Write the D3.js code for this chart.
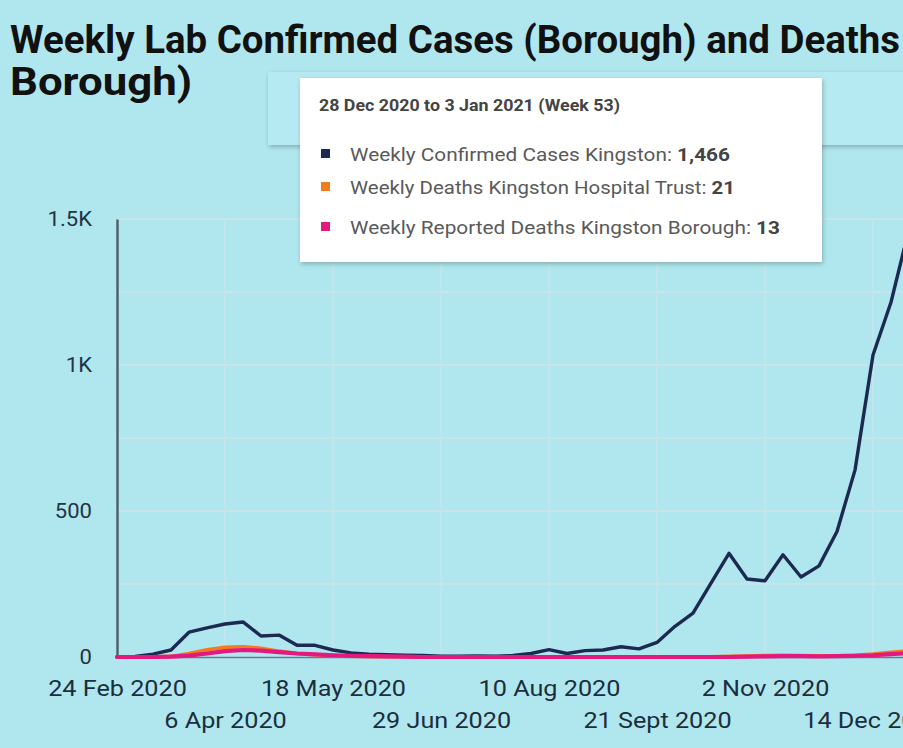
<!DOCTYPE html>
<html><head><meta charset="utf-8">
<script src="https://cdn.jsdelivr.net/npm/d3@7"></script>
<style>
html,body{margin:0;padding:0;background:#b0e7ef;overflow:hidden}
svg{display:block}
</style></head>
<body>
<svg id="c" width="903" height="748"></svg>
<script>
// ---- data ----
const startDate = "2020-02-24";
const weeksCount = 45;
const cases = [0,2,10,24,85,100,113,120,72,75,40,40,24,14,10,8,6,5,3,3,4,3,5,12,25,12,22,24,35,28,50,105,150,253,355,267,261,350,274,312,430,640,1034,1215,1466];
const deathsTrust = [0,0,0,2,12,25,33,35,30,20,12,8,5,3,2,1,1,0,0,0,0,0,0,0,0,0,0,0,0,0,0,0,0,1,2,3,5,6,5,4,4,6,10,16,21];
const deathsBorough = [0,0,0,1,5,12,20,24,22,17,12,9,6,4,3,2,1,0,0,0,0,0,0,0,0,0,0,0,0,0,0,0,0,0,0,1,2,3,3,2,3,4,6,10,13];
const seriesNames = ["Weekly Confirmed Cases Kingston","Weekly Deaths Kingston Hospital Trust","Weekly Reported Deaths Kingston Borough"];
const seriesColors = ["#1c2a52","#f47a1f","#e4197f"];
const xTickDates = ["2020-02-24","2020-04-06","2020-05-18","2020-06-29","2020-08-10","2020-09-21","2020-11-02","2020-12-14"];
const xTickLabels = ["24 Feb 2020","6 Apr 2020","18 May 2020","29 Jun 2020","10 Aug 2020","21 Sept 2020","2 Nov 2020","14 Dec 2020"];
const yTicks = [0,500,1000,1500];
const yTickLabels = ["0","500","1K","1.5K"];
const yGrid = [250,500,750,1000,1250,1500];
const titleLines = ["Weekly Lab Confirmed Cases (Borough) and Deaths","Borough)"];
const tooltipTitle = "28 Dec 2020 to 3 Jan 2021 (Week 53)";
const tooltipValues = ["1,466","21","13"];

// ---- build ----
const parse = d3.timeParse("%Y-%m-%d");
const t0 = parse(startDate);
const dates = d3.range(weeksCount).map(i => d3.timeDay.offset(t0, 7*i));
const svg = d3.select("#c");
const W = 903, H = 748;
svg.append("rect").attr("width",W).attr("height",H).attr("fill","#b0e7ef");

const x = d3.scaleTime().domain([dates[0], dates[dates.length-1]]).range([117, 909]);
const y = d3.scaleLinear().domain([0,1500]).range([657, 219]);

// grid
const g = svg.append("g");
g.selectAll("line.hg").data(yGrid).join("line")
  .attr("x1",117).attr("x2",W).attr("y1",d=>y(d)).attr("y2",d=>y(d))
  .attr("stroke","#c6e4e9").attr("stroke-width",1.8);
g.selectAll("line.vg").data(xTickDates.slice(1)).join("line")
  .attr("x1",d=>x(parse(d))).attr("x2",d=>x(parse(d))).attr("y1",y(1500)).attr("y2",y(0))
  .attr("stroke","#c6e4e9").attr("stroke-width",1.8);

function stretch(sel, k){
  sel.each(function(){
    const w = this.getComputedTextLength();
    d3.select(this).attr("textLength", w*k).attr("lengthAdjust","spacingAndGlyphs");
  });
}

// y axis
const yAxis = d3.axisLeft(y).tickValues(yTicks).tickSize(0).tickPadding(25)
  .tickFormat((d,i)=>yTickLabels[i]);
const ya = svg.append("g").attr("transform","translate(117,0)").call(yAxis);
ya.select(".domain").attr("stroke","#4d5d68").attr("stroke-width",2.4);
ya.selectAll("text").attr("font-family","Roboto, sans-serif").attr("font-size",21).attr("fill","#243442");
stretch(ya.selectAll("text"), 1.05);

// x axis
const xAxis = d3.axisBottom(x).tickValues(xTickDates.map(parse)).tickSize(0)
  .tickFormat((d,i)=>xTickLabels[i]);
const xa = svg.append("g").attr("transform",`translate(0,${y(0)})`).call(xAxis);
xa.select(".domain").attr("stroke","#6a7a84").attr("stroke-width",1.5);
xa.selectAll("text").attr("font-family","Roboto, sans-serif").attr("font-size",22.5).attr("fill","#1c2e3c")
  .attr("dy",null).attr("y",(d,i)=> i%2===0 ? 39 : 71);
stretch(xa.selectAll("text"), 1.12);

// lines
const seriesData = [cases, deathsTrust, deathsBorough];
const line = d3.line().x((d,i)=>x(dates[i])).y(d=>y(d));
const widths = [3.4, 3.6, 4.2];
seriesData.forEach((s,k)=>{
  svg.append("path").datum(s).attr("d",line).attr("fill","none")
    .attr("stroke",seriesColors[k]).attr("stroke-width",widths[k])
    .attr("stroke-linejoin","round").attr("stroke-linecap","round");
});

// title
const tt = svg.append("g");
tt.append("text").attr("x",10).attr("y",53).text(titleLines[0])
  .attr("font-family","Roboto, sans-serif").attr("font-weight",700).attr("font-size",38)
  .attr("fill","#111").attr("textLength",890).attr("lengthAdjust","spacingAndGlyphs");
tt.append("text").attr("x",10).attr("y",95).text(titleLines[1])
  .attr("font-family","Roboto, sans-serif").attr("font-weight",700).attr("font-size",38)
  .attr("fill","#111").attr("textLength",182).attr("lengthAdjust","spacingAndGlyphs");

// faint panel behind tooltip
const defs = svg.append("defs");
const f = defs.append("filter").attr("id","sh").attr("x","-10%").attr("y","-10%").attr("width","130%").attr("height","140%");
f.append("feDropShadow").attr("dx",1).attr("dy",2).attr("stdDeviation",2.5).attr("flood-color","#000").attr("flood-opacity",0.25);
svg.append("rect").attr("x",268).attr("y",72).attr("width",660).attr("height",73)
  .attr("fill","#b6eaf2").attr("filter","url(#sh)");

// tooltip
const tip = svg.append("g");
tip.append("rect").attr("x",300).attr("y",78).attr("width",522).attr("height",184)
  .attr("fill","#fff").attr("filter","url(#sh)");
tip.append("text").attr("x",319).attr("y",111).text(tooltipTitle)
  .attr("font-family","Roboto, sans-serif").attr("font-weight",700).attr("font-size",16).attr("fill","#444")
  .attr("textLength",301).attr("lengthAdjust","spacingAndGlyphs");
const rowY = [161, 194, 234];
const rowLen = [380, 385, 430];
seriesNames.forEach((n,k)=>{
  tip.append("rect").attr("x",321).attr("y",rowY[k]-12).attr("width",9).attr("height",9).attr("fill",seriesColors[k]);
  const t = tip.append("text").attr("x",350).attr("y",rowY[k]).attr("font-family","Roboto, sans-serif")
    .attr("font-size",17.5).attr("fill","#5a5a5a").attr("textLength",rowLen[k]).attr("lengthAdjust","spacingAndGlyphs");
  t.append("tspan").text(n+": ");
  t.append("tspan").text(tooltipValues[k]).attr("font-weight",700).attr("fill","#444");
});
</script>
</body></html>
